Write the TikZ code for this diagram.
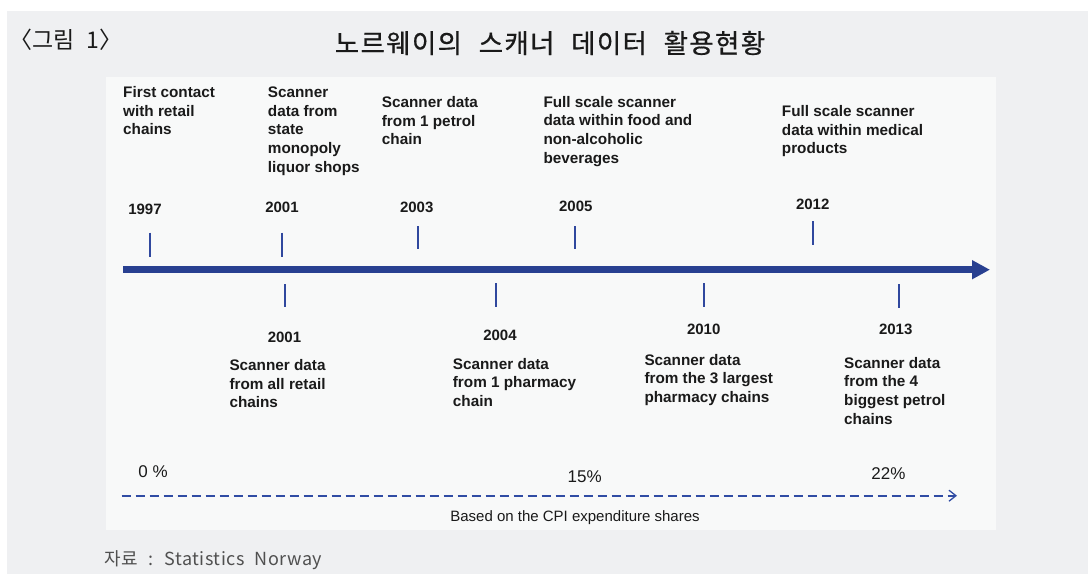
\documentclass[tikz,border=0pt]{standalone}
\usepackage{fontspec}
\setmainfont{Liberation Sans}
\newfontfamily\krfont[WordSpace=2.3]{Noto Sans CJK KR}
\newfontfamily\krtitle[WordSpace=2.3,LetterSpace=5,FakeBold=0.6]{Noto Sans CJK KR}
\newfontfamily\krnote[WordSpace=2.3,LetterSpace=2.5]{Noto Sans CJK KR}
\usetikzlibrary{arrows.meta}

\definecolor{pagebg}{HTML}{EFF0F2}
\definecolor{panelbg}{HTML}{F8F9F9}
\definecolor{lineblue}{RGB}{40,64,145}
\definecolor{tickblue}{RGB}{48,72,158}
\definecolor{dashblue}{RGB}{48,76,164}
\definecolor{ink}{HTML}{1A1A1A}
\definecolor{notegray}{HTML}{505050}

\begin{document}
\begin{tikzpicture}[x=1pt,y=-1pt,
  % multi-line labels are placed by the baseline of their last line
  event/.style={anchor=base west, align=left, inner sep=0pt, text=ink,
    font=\fontsize{15.3}{18.6}\selectfont\bfseries},
  year/.style={anchor=base, inner sep=0pt, text=ink,
    font=\fontsize{15}{18}\selectfont\bfseries},
  share/.style={anchor=base, inner sep=0pt, text=ink,
    font=\fontsize{17}{20}\selectfont},
  tick/.style={draw=tickblue, line width=2pt},
]
% page, grey frame and the white panel
\useasboundingbox (0,0) rectangle (1088,574);
\fill[white] (0,0) rectangle (1088,574);
\fill[pagebg] (7,11) rectangle (1088,574);
\fill[panelbg] (106,76.5) rectangle (996,530);

% headings
\node[anchor=base west, inner sep=0pt, text=ink, font=\krfont\fontsize{23}{27}\selectfont]
  (fig) at (9,48.5) {〈그림 1〉};
\node[anchor=base, inner sep=0pt, text=ink, font=\krtitle\fontsize{26.5}{30}\selectfont]
  (title) at (550,53) {노르웨이의 스캐너 데이터 활용현황};

% main time axis
\coordinate (axisL) at (123,269.7);
\coordinate (axisR) at (990,269.7);
\draw[lineblue, line width=7pt, -{Triangle[length=18pt,width=18pt]}] (axisL) -- (axisR);

% ticks above the axis
\draw[tick] (150,232.7) -- (150,256.7);
\draw[tick] (282.3,232.7) -- (282.3,256.7);
\draw[tick] (417.7,226) -- (417.7,249.3);
\draw[tick] (574.7,226) -- (574.7,249.3);
\draw[tick] (813.3,221.3) -- (813.3,244.7);
% ticks below the axis
\draw[tick] (285,284) -- (285,307.3);
\draw[tick] (496,283) -- (496,306.7);
\draw[tick] (703.7,283) -- (703.7,306.7);
\draw[tick] (899,284) -- (899,308);

% years above
\node[year] (y1997) at (145,214.3) {1997};
\node[year] (y2001a) at (282,212.3) {2001};
\node[year] (y2003) at (416.7,212.3) {2003};
\node[year] (y2005) at (575.8,211.7) {2005};
\node[year] (y2012) at (812.7,209) {2012};
% years below
\node[year] (y2001b) at (284.5,342.3) {2001};
\node[year] (y2004) at (500,340) {2004};
\node[year] (y2010) at (703.7,334) {2010};
\node[year] (y2013) at (895.7,334.7) {2013};

% events above
\node[event] (e1997) at (123,134.7) {First contact\\with retail\\chains};
\node[event] (e2001a) at (267.7,172.1) {Scanner\\data from\\state\\monopoly\\liquor shops};
\node[event] (e2003) at (381.7,144.9) {Scanner data\\from 1 petrol\\chain};
\node[event] (e2005) at (543.3,163.1) {Full scale scanner\\data within food and\\non-alcoholic\\beverages};
\node[event] (e2012) at (781.7,153.9) {Full scale scanner\\data within medical\\products};
% events below
\node[event] (e2001b) at (229.3,407.9) {Scanner data\\from all retail\\chains};
\node[event] (e2004) at (452.7,406.5) {Scanner data\\from 1 pharmacy\\chain};
\node[event] (e2010) at (644.3,402.2) {Scanner data\\from the 3 largest\\pharmacy chains};
\node[event] (e2013) at (844,424.1) {Scanner data\\from the 4\\biggest petrol\\chains};

% expenditure share scale
\node[share] (s0) at (153,477) {0 \%};
\node[share] (s15) at (584.7,482.7) {15\%};
\node[share] (s22) at (888.5,479) {22\%};
\coordinate (shareL) at (121.7,495.7);
\coordinate (shareR) at (957,495.7);
\draw[dashblue, line width=1.6pt, dash pattern=on 9.5pt off 4.5pt,
  -{Straight Barb[length=7pt,width=11pt,line width=1.3pt]}] (shareL) -- (shareR);
\node[anchor=base, inner sep=0pt, text=ink, font=\fontsize{15}{18}\selectfont]
  (scale) at (575,521.7) {Based on the CPI expenditure shares};

% source note
\node[anchor=base west, inner sep=0pt, text=notegray, font=\krnote\fontsize{18}{22}\selectfont]
  (src) at (104,565) {자료 : Statistics Norway};
\end{tikzpicture}
\end{document}
